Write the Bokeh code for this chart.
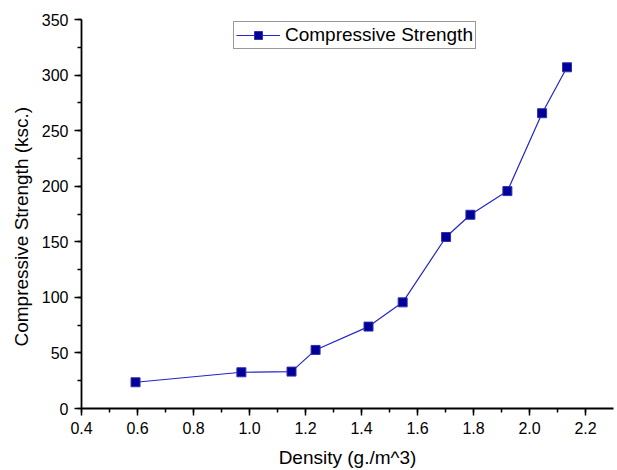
from bokeh.plotting import figure
from bokeh.models import (Range1d, SingleIntervalTicker, NumeralTickFormatter,
                          Legend, LegendItem, ColumnDataSource, Title)
from bokeh.embed import file_html
from bokeh.resources import INLINE

# Density (g./m^3) vs compressive strength (ksc.)
density = [0.593, 0.971, 1.150, 1.236, 1.425, 1.547, 1.702, 1.789, 1.921, 2.045, 2.134]
strength = [23.6, 32.6, 33.2, 52.7, 73.7, 95.5, 154.3, 174.3, 195.6, 265.7, 307.0]

FONT = "Liberation Sans"

src = ColumnDataSource(dict(x=density, y=strength))

p = figure(width=617, height=470, output_backend="svg", toolbar_location=None,
           x_range=Range1d(0.4, 2.3), y_range=Range1d(0, 350),
           min_border_left=81, min_border_right=4, min_border_top=19,
           min_border_bottom=61, x_axis_label="Density (g./m^3)")
p.outline_line_color = None
p.xgrid.visible = False
p.ygrid.visible = False
p.background_fill_color = "white"
p.border_fill_color = "white"

line = p.line("x", "y", source=src, line_color="#2424c8", line_width=1.2)
pts = p.scatter("x", "y", source=src, marker="square", size=9,
                fill_color="#000099", line_color="#3030b0", line_width=1)

p.xaxis.ticker = SingleIntervalTicker(interval=0.2, num_minor_ticks=2)
p.yaxis.ticker = SingleIntervalTicker(interval=50, num_minor_ticks=2)
p.xaxis.formatter = NumeralTickFormatter(format="0.0")

for ax in (p.xaxis[0], p.yaxis[0]):
    ax.axis_line_color = "#000000"
    ax.axis_line_width = 1.8
    ax.major_tick_line_color = "#000000"
    ax.minor_tick_line_color = "#000000"
    ax.major_tick_line_width = 1.5
    ax.minor_tick_line_width = 1.5
    ax.major_tick_in = 0
    ax.major_tick_out = 7
    ax.minor_tick_in = 0
    ax.minor_tick_out = 4
    ax.major_label_text_font = FONT
    ax.major_label_text_font_size = "16px"
    ax.major_label_text_color = "#000000"
    ax.axis_label_text_font = FONT
    ax.axis_label_text_font_size = "19px"
    ax.axis_label_text_font_style = "normal"
    ax.axis_label_text_color = "#000000"

p.xaxis.major_label_standoff = 6
p.xaxis.axis_label_standoff = 10
p.yaxis.major_label_standoff = 6

# vertical axis title, starting a bit above the bottom of the frame
ytitle = Title(text="Compressive Strength (ksc.)", align="left", offset=62,
               standoff=13, text_font=FONT, text_font_size="19px",
               text_font_style="normal", text_color="#000000")
p.add_layout(ytitle, "left")

legend = Legend(items=[LegendItem(label="Compressive Strength", renderers=[line, pts])],
                location=(152, 359), border_line_color="#333333", border_line_width=1,
                label_text_font=FONT, label_text_font_size="19px",
                label_text_color="#000000", padding=2, margin=0, spacing=0,
                glyph_width=44, glyph_height=20, label_standoff=5, label_height=20,
                background_fill_alpha=1.0)
p.add_layout(legend, "center")

open("out.html", "w").write(file_html(p, INLINE))
